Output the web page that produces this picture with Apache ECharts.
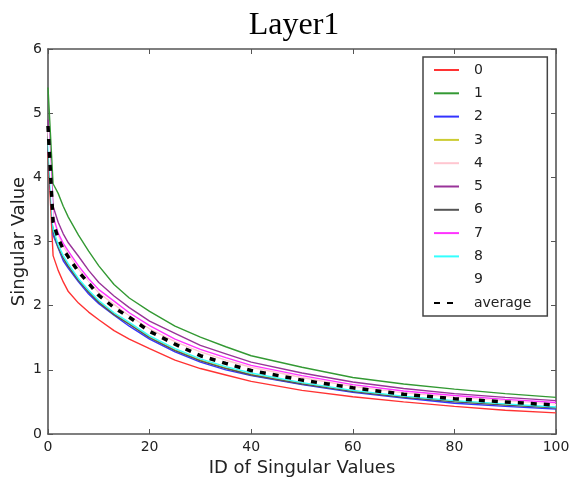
<!DOCTYPE html>
<html>
<head>
<meta charset="utf-8">
<script src="https://cdn.jsdelivr.net/npm/echarts@6/dist/echarts.min.js"></script>
<style>html,body{margin:0;padding:0;background:#fff;}#c{width:569px;height:484px;}</style>
</head>
<body>
<div id="c"></div>
<script>
var xs = [0,1,2,3,4,6,8,10,13,16,20,25,30,35,40,50,60,70,80,90,100];
var s0 = [4.4,2.78,2.55,2.37,2.22,2.04,1.9,1.78,1.61,1.48,1.33,1.15,1.02,0.92,0.82,0.68,0.58,0.5,0.43,0.37,0.33];
var s1 = [5.4,3.9,3.75,3.55,3.38,3.1,2.85,2.62,2.33,2.12,1.91,1.68,1.51,1.36,1.22,1.04,0.88,0.78,0.70,0.63,0.57];
var s2 = [4.5,3.1,2.9,2.7,2.58,2.37,2.18,2.03,1.85,1.68,1.48,1.28,1.12,1.0,0.91,0.77,0.65,0.56,0.48,0.43,0.39];
var s3 = [4.55,3.16,2.92,2.75,2.62,2.4,2.22,2.06,1.87,1.72,1.51,1.31,1.15,1.03,0.93,0.79,0.67,0.58,0.51,0.46,0.41];
var s4 = [4.75,3.35,3.08,2.92,2.8,2.57,2.37,2.2,2.02,1.84,1.64,1.44,1.28,1.15,1.04,0.88,0.74,0.64,0.57,0.51,0.46];
var s5 = [4.9,3.55,3.3,3.12,2.98,2.77,2.55,2.36,2.15,1.97,1.76,1.57,1.38,1.25,1.12,0.95,0.81,0.71,0.63,0.57,0.52];
var s6 = [4.55,3.15,2.91,2.74,2.61,2.39,2.21,2.05,1.86,1.71,1.5,1.3,1.14,1.02,0.92,0.78,0.66,0.57,0.5,0.45,0.41];
var s7 = [4.8,3.4,3.13,2.97,2.85,2.62,2.42,2.25,2.07,1.89,1.69,1.48,1.32,1.19,1.07,0.91,0.77,0.67,0.6,0.54,0.49];
var s8 = [4.6,3.2,2.95,2.78,2.65,2.42,2.24,2.08,1.89,1.74,1.53,1.33,1.17,1.05,0.95,0.8,0.68,0.59,0.52,0.47,0.42];
var s9 = [4.8,3.3,3.05,2.88,2.76,2.53,2.35,2.16,1.97,1.82,1.6,1.4,1.22,1.1,0.99,0.84,0.72,0.62,0.55,0.5,0.45];
var avg = [4.8,3.3,3.05,2.88,2.76,2.53,2.35,2.16,1.97,1.82,1.6,1.4,1.22,1.1,0.99,0.84,0.72,0.62,0.55,0.5,0.45];
var names = ['0','1','2','3','4','5','6','7','8','9','average'];
var colors = ['#ff3333','#339933','#3333ff','#cccc33','#ffc6d0','#993399','#555555','#ff33ff','#33ffff','#ffffff','#000000'];
var yTicks = [0,1,2,3,4,5,6];
var xTicks = [0,20,40,60,80,100];

function pairs(v){ return xs.map(function(x,i){ return [x, v[i]]; }); }
var all = [s0,s1,s2,s3,s4,s5,s6,s7,s8,s9,avg];
var series = all.map(function(v,i){
  var isAvg = names[i] === 'average';
  return {
    name: names[i], type: 'line', data: pairs(v), showSymbol: false, symbol: 'none',
    smooth: false, silent: true, animation: false, z: 2 + i,
    lineStyle: isAvg ? {color: colors[i], width: 3.5, type: [6,7]} : {color: colors[i], width: 1.4},
    itemStyle: {color: colors[i]}
  };
});

var axisCommon = {
  axisLine: {show: true, onZero: false, lineStyle: {color: '#555', width: 1.6}},
  axisTick: {show: true, inside: true, length: 5, lineStyle: {color: '#555', width: 1}},
  splitLine: {show: false}
};
var chart = echarts.init(document.getElementById('c'));
chart.setOption({
  animation: false,
  backgroundColor: '#fff',
  title: {text: 'Layer1', left: 289, top: 5, textAlign: 'center',
    textStyle: {fontFamily: 'Liberation Serif', fontWeight: 'normal', fontSize: 32, color: '#000'}},
  grid: {left: 48, top: 49, width: 508, height: 385, containLabel: false, outerBoundsMode: 'none'},
  legend: {
    orient: 'vertical', left: 423, top: 57, data: names,
    itemWidth: 25, itemHeight: 14, itemGap: 9.3, padding: [6, 16, 6, 10],
    borderColor: '#444', borderWidth: 1.5, backgroundColor: '#fff',
    itemStyle: {opacity: 0},
    textStyle: {fontFamily: 'DejaVu Sans', fontSize: 14, color: '#222', padding: [0,0,0,10]},
    selectedMode: false
  },
  xAxis: [
    Object.assign({type: 'value', min: 0, max: 100, interval: 20, position: 'bottom',
      name: 'ID of Singular Values', nameLocation: 'middle', nameGap: 24,
      nameTextStyle: {fontFamily: 'DejaVu Sans', fontSize: 18, color: '#222'},
      axisLabel: {fontFamily: 'DejaVu Sans', fontSize: 14, color: '#222', margin: 6,
        formatter: function(v){ return xTicks.indexOf(v) >= 0 ? String(v) : ''; }}}, axisCommon),
    Object.assign({type: 'value', min: 0, max: 100, interval: 20, position: 'top',
      axisLabel: {show: false}}, axisCommon)
  ],
  yAxis: [
    Object.assign({type: 'value', min: 0, max: 6, interval: 1, position: 'left',
      name: 'Singular Value', nameLocation: 'middle', nameGap: 20, nameMoveOverlap: false,
      nameTextStyle: {fontFamily: 'DejaVu Sans', fontSize: 18, color: '#222'},
      axisLabel: {fontFamily: 'DejaVu Sans', fontSize: 14, color: '#222', margin: 6,
        formatter: function(v){ return yTicks.indexOf(v) >= 0 ? String(v) : ''; }}}, axisCommon),
    Object.assign({type: 'value', min: 0, max: 6, interval: 1, position: 'right',
      axisLabel: {show: false}}, axisCommon)
  ],
  series: series
});
</script>
</body>
</html>
